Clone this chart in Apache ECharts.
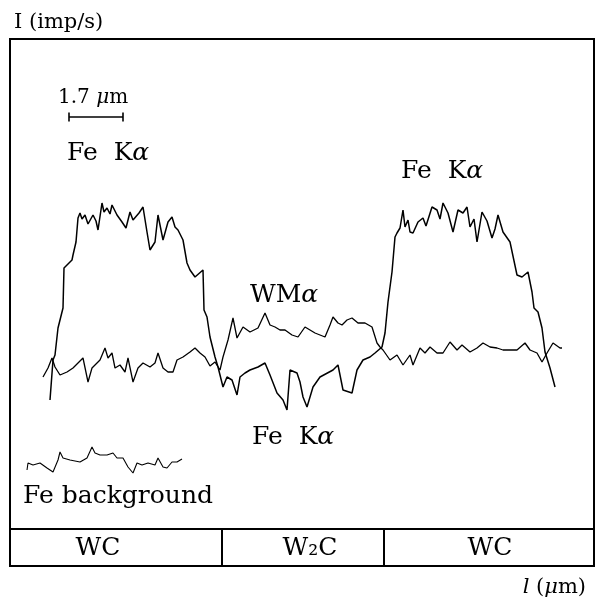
<!DOCTYPE html>
<html><head><meta charset="utf-8">
<script src="https://cdn.jsdelivr.net/npm/echarts@6/dist/echarts.min.js"></script>
<style>html,body{margin:0;padding:0;background:#fff}#c{width:596px;height:598px}</style>
</head><body><div id="c"></div>
<script>
// Scan position (1.7 µm = 54 units) and intensity (arbitrary imp/s units)
const feKaX = [40,43,45,48,53,54,58,62,63,66,68,70,72,75,78,80,83,86,88,92,94,97,100,102,105,107,112,116,120,123,125,129,133,137,140,145,148,153,158,162,165,168,173,177,180,185,193,194,197,200,205,208,213,217,222,227,230,235,240,248,255,260,267,273,277,280,287,290,293,297,303,310,323,328,333,342,347,353,360,365,372,375,378,382,385,387,390,393,395,398,400,403,408,413,416,418,422,427,430,433,438,443,448,453,457,460,464,467,472,477,482,485,488,493,500,507,512,518,522,524,528,532,535,540,545];
const feKaY = [129,169,174,201,221,261,265,269,274,287,311,316,310,314,305,306,314,308,299,326,317,321,315,324,318,314,307,301,317,309,311,316,322,297,279,287,314,289,307,312,302,299,289,266,259,252,259,219,212,192,172,162,142,152,149,134,152,156,159,162,166,154,136,129,119,159,156,147,132,122,142,152,159,164,139,136,159,169,172,176,182,196,227,257,292,296,301,319,302,309,297,296,307,311,303,302,322,319,310,326,316,297,319,316,322,302,310,287,317,308,291,300,314,297,287,254,252,257,237,221,217,201,177,161,142];
const wmaX = [33,38,42,45,50,57,63,68,73,78,82,87,90,95,98,102,105,110,115,118,123,128,133,140,145,148,153,158,163,167,173,180,185,190,195,200,205,210,213,218,223,227,233,240,248,255,260,265,270,275,282,288,295,300,305,310,315,320,323,328,332,337,342,348,355,362,367,370,373,380,387,393,400,403,410,415,420,427,433,440,447,452,460,467,473,480,487,493,500,507,515,520,527,532,537,543,550,552];
const wmaY = [152,161,171,162,154,157,161,166,171,147,161,166,169,181,171,176,161,164,157,171,147,161,166,162,166,176,161,157,157,169,172,177,181,176,172,163,167,159,172,189,211,191,202,197,201,216,204,202,199,199,194,192,202,199,196,194,192,204,212,206,204,209,211,206,206,202,186,182,179,169,174,164,174,164,181,176,182,176,176,187,179,184,177,181,186,182,181,179,179,179,186,179,176,167,176,186,181,181];
const bgX = [17,18,23,30,37,43,48,50,53,60,70,77,82,85,90,97,103,107,113,118,123,127,132,138,145,148,153,157,162,167,172];
const bgY = [59,66,64,66,61,57,69,77,71,69,67,71,82,76,74,74,76,71,71,62,56,66,64,66,64,71,62,61,67,67,70];
const scaleBarX = [59, 113];   // 1.7 µm
const scaleBarY = 412;
const phaseBounds = [0, 212, 374, 584];
const phaseLabels = ['WC', 'W\u2082C', 'WC'];
const phaseLabelX = [88, 300, 480];

(function () {
const zip = (xs, ys) => xs.map((x, i) => [x, ys[i]]);
const F = '"DejaVu Serif", "Liberation Serif", serif';
const chart = echarts.init(document.getElementById('c'), null, {renderer: 'canvas'});
const lineS = (name, d, w) => ({
  name, type: 'line', data: d, showSymbol: false, symbol: 'none', smooth: false,
  lineStyle: {color: '#000', width: w}, silent: true, animation: false
});
chart.setOption({
  animation: false,
  grid: {left: 10, right: 2, top: 39, bottom: 69, show: false},
  xAxis: {type: 'value', min: 0, max: 584, show: false},
  yAxis: {type: 'value', min: 0, max: 490, show: false},
  series: [
    lineS('Fe Kα', zip(feKaX, feKaY), 1.5),
    lineS('WMα', zip(wmaX, wmaY), 1.3),
    lineS('Fe background', zip(bgX, bgY), 1.1),
    {type: 'line', data: scaleBarX.map(x => [x, scaleBarY]), symbol: 'rect', symbolSize: [1.6, 9],
     showSymbol: true, itemStyle: {color: '#000'}, lineStyle: {color: '#000', width: 1.6}, animation: false}
  ]
});
const px = v => chart.convertToPixel({gridIndex: 0}, [v, 0])[0];
const yTop = 39, stripTop = 529, yBot = 566, xL = px(phaseBounds[0]), xR = px(phaseBounds[3]);
const it = s => ({a: {fontStyle: 'italic', fontFamily: F, fontSize: s, fill: '#000'}});
const txt = (x, y, text, size, align, rich) => ({
  type: 'text', x, y, silent: true,
  style: {text, fontFamily: F, fontSize: size, fill: '#000', align: align || 'left', verticalAlign: 'middle', rich}
});
const g = [
  {type: 'rect', shape: {x: xL, y: yTop, width: xR - xL, height: yBot - yTop}, style: {fill: 'none', stroke: '#000', lineWidth: 2}},
  {type: 'line', shape: {x1: xL, y1: stripTop, x2: xR, y2: stripTop}, style: {stroke: '#000', lineWidth: 2}},
  txt(14, 23, 'I (imp/s)', 21),
  txt(58, 98, '1.7 {a|μ}m', 20, 'left', it(20)),
  txt(67, 153, 'Fe  K{a|α}', 25, 'left', it(25)),
  txt(401, 171, 'Fe  K{a|α}', 25, 'left', it(25)),
  txt(250, 295, 'WM{a|α}', 25, 'left', it(25)),
  txt(252, 437, 'Fe  K{a|α}', 25, 'left', it(25)),
  txt(23, 496, 'Fe background', 25),
  txt(586, 588, '{a|l} ({a|μ}m)', 21, 'right', it(21))
];
for (let i = 1; i < phaseBounds.length - 1; i++) {
  const x = px(phaseBounds[i]);
  g.push({type: 'line', shape: {x1: x, y1: stripTop, x2: x, y2: yBot}, style: {stroke: '#000', lineWidth: 2}});
}
phaseLabels.forEach((l, i) => g.push(txt(px(phaseLabelX[i]), 548, l, 25, 'center')));
chart.setOption({graphic: g});
})();
</script></body></html>
